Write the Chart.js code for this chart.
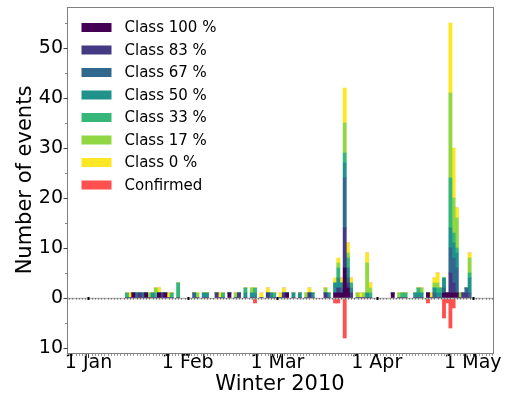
<!DOCTYPE html>
<html>
<head>
<meta charset="utf-8">
<script src="https://cdn.jsdelivr.net/npm/chart.js@4.4.0/dist/chart.umd.min.js"></script>
<style>
html,body{margin:0;padding:0;background:#fff;}
#wrap{width:512px;height:401px;position:relative;}
</style>
</head>
<body>
<div id="wrap"><canvas id="c" width="512" height="401"></canvas></div>
<script>
// day offsets from 1 Jan 2010
const days = [
  12,13,14,15,16,17,18,19,20,21,22,23,24,25,26,
  28,33,34,36,37,40,41,42,44,46,47,49,51,52,54,
  56,57,58,60,61,62,64,66,68,69,70,74,75,77,78,
  79,80,81,82,84,85,86,87,88,95,97,98,99,102,103,
  104,106,107,108,109,110,111,112,113,114,115,116,117,118,119
];
const class100 = [
  0,0,1,0,0,0,1,0,0,0,1,0,1,0,0,
  0,0,0,0,0,0,0,0,1,0,0,0,0,0,0,
  0,0,0,0,0,1,0,0,0,0,0,0,0,1,1,
  1,6,2,0,0,0,0,0,0,1,0,0,0,0,0,
  0,1,0,0,0,0,1,1,1,1,1,0,0,0,0
];
const class83 = [
  0,0,0,0,1,0,0,0,0,0,0,1,0,0,0,
  0,0,0,0,0,1,0,0,0,0,1,0,0,0,0,
  1,0,0,0,1,0,0,0,0,1,0,1,0,0,1,
  0,8,1,1,0,0,0,0,0,0,0,0,0,0,0,
  0,0,0,0,0,0,0,0,4,2,0,0,1,1,0
];
const class67 = [
  0,0,0,1,0,1,0,0,0,0,0,0,0,0,0,
  0,1,0,0,0,0,0,0,0,0,0,0,0,0,0,
  0,0,0,0,0,0,0,0,0,0,0,0,0,0,0,
  1,10,1,0,0,0,0,0,0,0,0,0,0,0,0,
  0,0,0,1,0,0,1,0,5,5,5,0,0,1,1
];
const class50 = [
  0,0,0,0,0,0,0,0,1,0,0,0,0,0,0,
  0,0,0,1,1,0,0,0,0,0,0,1,1,1,0,
  0,1,0,0,0,0,1,1,0,0,1,0,1,2,2,
  1,3,2,1,0,0,0,1,0,0,0,0,0,1,1,
  1,0,0,1,1,1,2,0,4,3,3,0,0,0,3
];
const class33 = [
  1,0,0,0,0,0,0,0,0,1,0,0,0,0,1,
  3,0,0,0,0,0,0,1,0,0,0,1,0,1,0,
  0,0,1,0,0,0,0,0,0,0,0,0,0,0,2,
  0,2,2,1,0,0,0,0,1,0,0,1,1,0,1,
  0,0,0,0,1,1,0,0,10,2,1,0,0,0,1
];
const class17 = [
  0,0,0,0,0,0,0,1,0,1,0,0,0,0,0,
  0,0,1,0,0,0,0,0,0,1,0,0,1,0,0,
  0,0,0,0,0,0,0,0,1,0,0,1,0,0,1,
  0,6,1,0,1,0,1,6,1,0,1,0,0,0,0,
  1,0,0,1,1,0,0,0,17,7,6,1,0,0,3
];
const class0 = [
  0,1,0,0,0,0,0,0,0,0,1,0,0,1,0,
  0,0,0,0,0,0,1,0,0,0,0,0,0,0,1,
  1,0,0,1,1,0,0,0,0,1,0,0,0,1,1,
  1,7,2,1,0,1,0,2,1,0,0,0,0,0,0,
  0,0,1,1,2,0,0,0,14,10,2,0,0,0,1
];
const confirmed = [
  0,0,0,0,0,0,0,0,0,0,0,0,0,0,0,
  0,0,0,0,0,0,0,0,0,0,0,0,0,1,0,
  0,0,0,0,0,0,0,0,0,0,0,0,0,1,1,
  0,8,0,0,0,0,0,0,0,0,0,0,0,0,0,
  0,1,0,0,0,0,4,1,6,2,0,0,0,0,0
];
const seriesLabels = ['Class 100 %','Class 83 %','Class 67 %','Class 50 %','Class 33 %','Class 17 %','Class 0 %','Confirmed'];
const xTickDays = [0, 31, 59, 90, 120];
const xTickLabels = ['1 Jan','1 Feb','1 Mar','1 Apr','1 May'];
const yTickValues = [-10, 0, 10, 20, 30, 40, 50];
const xAxisTitle = 'Winter 2010';
const yAxisTitle = 'Number of events';

// styles
const seriesColors = ['#440154','#443983','#31688e','#21918c','#35b779','#90d743','#fde725','#ff5050'];
const FONT = "'DejaVu Sans', sans-serif";
const SPINE = '#808080';

const classSeries = [class100, class83, class67, class50, class33, class17, class0];
const datasets = classSeries.map((arr, k) => ({
  label: seriesLabels[k],
  data: days.map((d, i) => ({x: d, y: arr[i]})),
  backgroundColor: seriesColors[k],
  borderWidth: 0,
  barPercentage: 1,
  categoryPercentage: 1
}));
datasets.push({
  label: seriesLabels[7],
  data: days.map((d, i) => ({x: d, y: -confirmed[i]})),
  backgroundColor: seriesColors[7],
  borderWidth: 0,
  barPercentage: 1,
  categoryPercentage: 1
});

const decor = {
  id: 'decor',
  afterDatasetsDraw(chart) {
    const {ctx, chartArea: a, scales: {x, y}} = chart;
    const y0 = Math.round(y.getPixelForValue(0)) + 0.5;
    ctx.save();
    ctx.strokeStyle = '#b8b8b8';
    ctx.lineWidth = 1.5;
    ctx.beginPath(); ctx.moveTo(a.left, y0); ctx.lineTo(a.right, y0); ctx.stroke();
    ctx.fillStyle = '#707070';
    for (let d = Math.ceil(x.min); d <= Math.floor(x.max); d++) {
      const px = Math.round(x.getPixelForValue(d));
      ctx.fillRect(px, y0 - 0.5, 1, 1.5);
    }
    ctx.fillStyle = '#000';
    xTickDays.forEach(d => {
      const px = Math.round(x.getPixelForValue(d));
      ctx.fillRect(px - 0.5, y0 - 1.5, 2, 3);
    });
    ctx.restore();
  },
  afterDraw(chart) {
    const {ctx, chartArea: a, scales: {x, y}} = chart;
    ctx.save();
    ctx.strokeStyle = SPINE;
    ctx.lineWidth = 1;
    ctx.strokeRect(Math.round(a.left) + 0.5, Math.round(a.top) + 0.5, Math.round(a.right - a.left), Math.round(a.bottom - a.top));
    ctx.fillStyle = '#444';
    yTickValues.forEach(v => {
      const py = Math.round(y.getPixelForValue(v));
      ctx.fillRect(a.left - 3.5, py, 4, 1);
    });
    ctx.fillStyle = '#888';
    for (let v = -5; v < y.max; v += 10) {
      const py = Math.round(y.getPixelForValue(v));
      ctx.fillRect(a.left - 2, py, 2, 1);
    }
    const yb = Math.round(a.bottom) + 1;
    ctx.fillStyle = '#999';
    for (let d = Math.ceil(x.min); d <= Math.floor(x.max); d++) {
      const px = Math.round(x.getPixelForValue(d));
      ctx.fillRect(px, yb, 1, 2);
    }
    ctx.fillStyle = '#333';
    xTickDays.forEach(d => {
      const px = Math.round(x.getPixelForValue(d));
      ctx.fillRect(px, yb, 1, 4);
    });
    // legend
    ctx.font = '15px ' + FONT;
    ctx.textBaseline = 'middle';
    ctx.textAlign = 'left';
    chart.data.datasets.forEach((ds, i) => {
      const cy = a.top + 20.5 + i * 22.5;
      ctx.fillStyle = ds.backgroundColor;
      ctx.fillRect(a.left + 14.5, cy - 4.5, 30, 9);
      ctx.fillStyle = '#000';
      ctx.fillText(ds.label, a.left + 57.5, cy + 1);
    });
    ctx.restore();
  }
};

new Chart(document.getElementById('c'), {
  type: 'bar',
  data: {datasets},
  options: {
    responsive: false,
    animation: false,
    layout: {padding: {left: 0, right: 19, top: 7, bottom: 0}},
    plugins: {legend: {display: false}, tooltip: {enabled: false}},
    scales: {
      x: {
        type: 'linear',
        stacked: true,
        min: -6.7,
        max: 126.3,
        offset: false,
        grid: {display: false, drawTicks: false},
        border: {display: false},
        afterBuildTicks: s => { s.ticks = xTickDays.map(v => ({value: v})); },
        afterFit: s => { s.height = 48; s.paddingLeft = 0; s.paddingRight = 0; },
        ticks: {
          autoSkip: false,
          maxRotation: 0,
          padding: 1,
          color: '#000',
          font: {family: FONT, size: 19, lineHeight: 1},
          callback: v => xTickLabels[xTickDays.indexOf(v)]
        },
        title: {display: true, text: xAxisTitle, color: '#000', font: {family: FONT, size: 21}, padding: {top: 0, bottom: 4}}
      },
      y: {
        type: 'linear',
        stacked: true,
        min: -11,
        max: 58.2,
        grid: {display: false, drawTicks: false},
        border: {display: false},
        afterBuildTicks: s => { s.ticks = yTickValues.map(v => ({value: v})); },
        afterFit: s => { s.width = 67; s.paddingTop = 0; s.paddingBottom = 0; },
        ticks: {
          padding: 4,
          color: '#000',
          font: {family: FONT, size: 19},
          callback: v => String(Math.abs(v))
        },
        title: {display: true, text: yAxisTitle, color: '#000', font: {family: FONT, size: 21}, padding: {top: 13, bottom: 0}}
      }
    }
  },
  plugins: [decor]
});
</script>
</body>
</html>
